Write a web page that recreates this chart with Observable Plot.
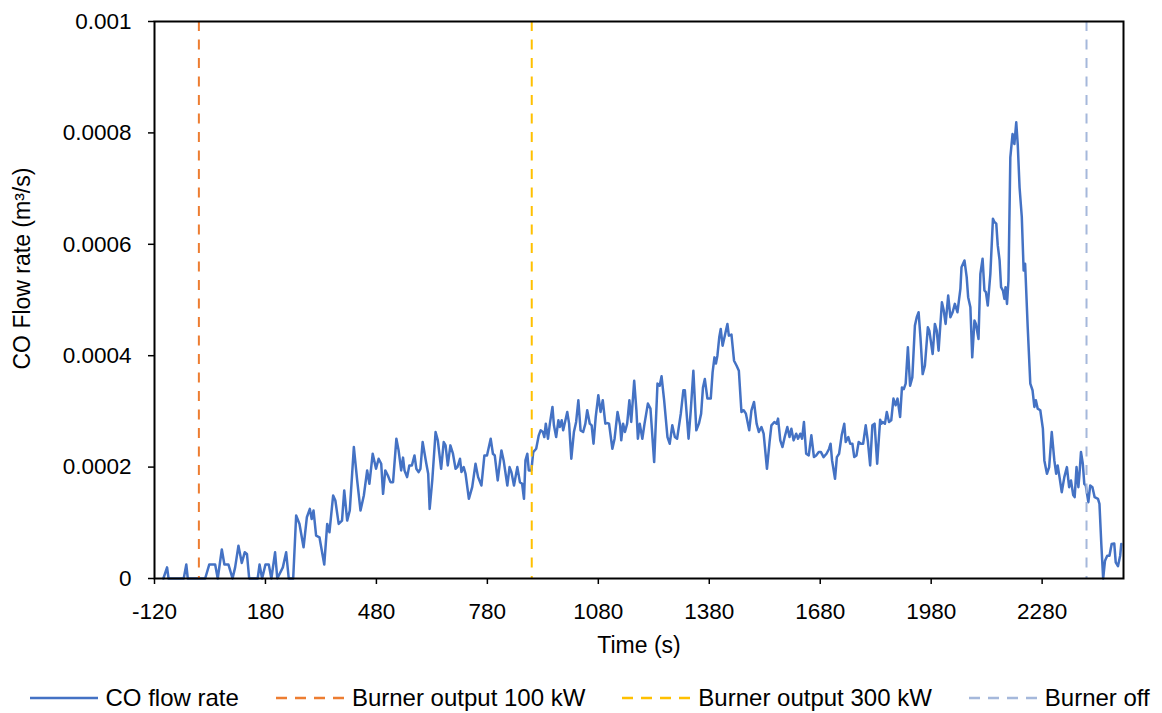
<!DOCTYPE html>
<html><head><meta charset="utf-8">
<script src="https://cdn.jsdelivr.net/npm/d3@7"></script>
<script src="https://cdn.jsdelivr.net/npm/@observablehq/plot@0.6"></script>
<style>
html,body{margin:0;padding:0;background:#fff;}
#chart{width:1162px;height:670px;}
.legend{display:flex;justify-content:flex-start;align-items:center;height:56px;width:1162px;padding-left:11px;box-sizing:border-box;font-family:"Liberation Sans",Arial,sans-serif;font-size:24px;color:#000;white-space:nowrap;}
.item{display:flex;align-items:center;margin:0 18.5px;}
.item svg{margin-right:8px;}
</style></head><body><div id="chart"></div><div class="legend" id="legend"></div><script>
// Time (s)
const coTime = [
  -96, -86, -82, -41, -34, -30, 17, 28, 44, 51,
  62, 69, 80, 91, 98, 107, 116, 124, 130, 136,
  159, 164, 171, 180, 189, 196, 206, 212, 227, 236,
  243, 255, 263, 272, 283, 292, 300, 305, 310, 317,
  326, 339, 347, 353, 363, 369, 378, 387, 393, 401,
  408, 419, 428, 437, 446, 455, 461, 470, 479, 486,
  493, 498, 504, 511, 518, 525, 534, 540, 547, 552,
  556, 563, 569, 576, 583, 588, 594, 599, 605, 615,
  620, 624, 631, 640, 646, 655, 662, 667, 673, 680,
  687, 694, 699, 706, 710, 716, 721, 730, 739, 748,
  755, 764, 772, 779, 789, 795, 800, 808, 818, 824,
  834, 840, 845, 852, 861, 868, 874, 879, 883, 888,
  892, 899, 904, 912, 919, 924, 930, 934, 938, 944,
  949, 956, 960, 966, 972, 976, 981, 985, 990, 996,
  1001, 1007, 1014, 1020, 1026, 1032, 1039, 1045, 1050, 1057,
  1062, 1067, 1073, 1080, 1086, 1092, 1099, 1105, 1109, 1118,
  1124, 1132, 1139, 1142, 1147, 1152, 1158, 1164, 1169, 1177,
  1183, 1187, 1192, 1199, 1205, 1214, 1221, 1231, 1240, 1246,
  1251, 1258, 1267, 1273, 1280, 1287, 1293, 1303, 1310, 1314,
  1324, 1330, 1337, 1345, 1352, 1358, 1363, 1368, 1375, 1384,
  1389, 1394, 1398, 1402, 1407, 1411, 1416, 1422, 1429, 1433,
  1440, 1447, 1454, 1460, 1467, 1473, 1479, 1488, 1494, 1501,
  1508, 1514, 1521, 1527, 1536, 1543, 1548, 1556, 1562, 1566,
  1572, 1578, 1584, 1591, 1597, 1602, 1608, 1615, 1620, 1626,
  1631, 1636, 1642, 1649, 1656, 1663, 1669, 1676, 1682, 1689,
  1697, 1704, 1708, 1712, 1720, 1725, 1731, 1738, 1745, 1749,
  1756, 1761, 1767, 1772, 1778, 1784, 1790, 1796, 1803, 1809,
  1815, 1821, 1827, 1834, 1842, 1846, 1849, 1855, 1860, 1866,
  1872, 1878, 1884, 1889, 1896, 1901, 1906, 1911, 1917, 1923,
  1929, 1936, 1941, 1946, 1951, 1957, 1963, 1971, 1975, 1984,
  1990, 1995, 2000, 2009, 2014, 2019, 2026, 2032, 2038, 2044,
  2051, 2059, 2062, 2070, 2076, 2080, 2086, 2091, 2097, 2101,
  2108, 2113, 2119, 2124, 2128, 2133, 2140, 2147, 2151, 2156,
  2160, 2165, 2169, 2174, 2178, 2181, 2185, 2189, 2194, 2200,
  2205, 2210, 2214, 2219, 2225, 2230, 2234, 2241, 2248, 2254,
  2259, 2263, 2268, 2275, 2282, 2286, 2293, 2299, 2306, 2313,
  2318, 2322, 2327, 2333, 2340, 2347, 2353, 2358, 2364, 2368,
  2373, 2378, 2381, 2385, 2390, 2394, 2398, 2405, 2410, 2416,
  2422, 2431, 2435, 2440, 2445, 2450, 2456, 2462, 2468, 2475,
  2479, 2485, 2491, 2494
];
// CO flow rate, in units of 1e-6 m³/s
const coFlowMicro = [
  0, 20, 0, 0, 25, 0, 0, 25, 25, 0,
  52, 25, 25, 0, 20, 59, 28, 47, 44, 0,
  0, 25, 0, 25, 25, 0, 47, 0, 20, 47,
  0, 0, 113, 98, 56, 110, 125, 107, 122, 77,
  74, 25, 98, 83, 149, 140, 98, 104, 158, 104,
  122, 236, 176, 122, 149, 194, 170, 224, 197, 215,
  206, 152, 194, 185, 173, 173, 251, 230, 194, 217,
  194, 182, 203, 203, 221, 197, 191, 197, 245, 206,
  188, 125, 176, 263, 248, 197, 245, 239, 203, 239,
  224, 197, 200, 215, 191, 200, 188, 143, 164, 206,
  182, 167, 221, 221, 251, 224, 221, 176, 230, 212,
  167, 200, 191, 167, 200, 173, 170, 143, 212, 224,
  194, 194, 227, 233, 257, 266, 263, 254, 278, 251,
  278, 308, 275, 254, 284, 272, 284, 266, 281, 299,
  278, 215, 263, 281, 320, 266, 263, 278, 302, 278,
  275, 242, 290, 329, 299, 320, 278, 279, 278, 233,
  251, 299, 275, 248, 278, 263, 278, 320, 281, 355,
  302, 251, 278, 251, 278, 314, 305, 209, 350, 346,
  363, 320, 254, 242, 275, 254, 251, 296, 338, 338,
  251, 302, 373, 266, 278, 296, 343, 358, 323, 323,
  370, 397, 386, 400, 433, 448, 418, 436, 457, 436,
  438, 391, 382, 373, 299, 302, 296, 266, 302, 317,
  278, 263, 272, 260, 197, 245, 275, 281, 278, 287,
  248, 236, 254, 272, 254, 269, 248, 260, 251, 260,
  251, 281, 224, 221, 257, 218, 221, 227, 227, 218,
  224, 233, 242, 212, 179, 218, 224, 257, 278, 245,
  254, 242, 242, 218, 221, 245, 242, 242, 275, 245,
  203, 275, 278, 206, 285, 278, 281, 278, 299, 281,
  284, 323, 311, 323, 290, 343, 340, 350, 415, 346,
  361, 454, 469, 478, 433, 367, 382, 451, 445, 403,
  457, 445, 409, 496, 481, 457, 508, 469, 478, 493,
  478, 520, 559, 571, 541, 505, 487, 397, 463, 457,
  430, 547, 574, 517, 514, 490, 547, 646, 640, 637,
  598, 571, 523, 517, 502, 523, 493, 535, 756, 798,
  780, 819, 780, 702, 649, 553, 565, 451, 350, 338,
  308, 320, 305, 302, 269, 212, 188, 200, 263, 212,
  188, 203, 182, 155, 182, 200, 164, 176, 150, 146,
  200, 164, 188, 227, 206, 170, 167, 137, 167, 164,
  146, 143, 134, 62, 0, 32, 41, 41, 62, 63,
  29, 22, 41, 62
];
const burnerLabels = ["Burner output 100 kW", "Burner output 300 kW", "Burner off"];
const burnerTimes = [0, 900, 2400];
const xTicks = [-120, 180, 480, 780, 1080, 1380, 1680, 1980, 2280];
const xTickLabels = ["-120", "180", "480", "780", "1080", "1380", "1680", "1980", "2280"];
const yTicks = [0, 200, 400, 600, 800, 1000];
const yTickLabels = ["0", "0.0002", "0.0004", "0.0006", "0.0008", "0.001"];

const lineColor = "#4472C4";
const burnerColors = ["#ED7D31", "#FFC000", "#A5B8DB"];
const font = '"Liberation Sans", Arial, sans-serif';

const rows = coTime.map((t, i) => ({t, v: coFlowMicro[i]}));

const chart = Plot.plot({
  width: 1162, height: 670,
  marginLeft: 154, marginRight: 39, marginTop: 21, marginBottom: 92,
  style: {fontFamily: font, fontSize: "22.5px", color: "#000", background: "#fff", overflow: "visible"},
  x: {domain: [-120, 2500]},
  y: {domain: [0, 1000]},
  marks: [
    Plot.line(rows, {x: "t", y: "v", stroke: lineColor, strokeWidth: 2.5, strokeLinejoin: "round"}),
    ...burnerTimes.map((t, i) => Plot.ruleX([t], {stroke: burnerColors[i], strokeWidth: 2, strokeDasharray: "10,8.5"})),
    Plot.frame({stroke: "#000", strokeWidth: 2}),
    Plot.axisX(xTicks, {anchor: "bottom", tickSize: 6, tickPadding: 19, strokeWidth: 1.5, stroke: "#000", fill: "#000", fontSize: 22.5,
      tickFormat: d => xTickLabels[xTicks.indexOf(d)], label: null}),
    Plot.axisY(yTicks, {anchor: "left", tickSize: 6, tickPadding: 17, strokeWidth: 1.5, stroke: "#000", fill: "#000", fontSize: 22.5,
      tickFormat: d => yTickLabels[yTicks.indexOf(d)], label: null}),
    Plot.text(["Time (s)"], {frameAnchor: "bottom", dy: 74, fontSize: 23, fill: "#000"}),
    Plot.text(["CO Flow rate (m³/s)"], {frameAnchor: "left", rotate: -90, textAnchor: "start", dx: -132, dy: 69.5, fontSize: 23, fill: "#000"})
  ]
});
document.getElementById("chart").appendChild(chart);

// legend
const legend = document.getElementById("legend");
const items = [{label: "CO flow rate", color: lineColor, dash: null}]
  .concat(burnerLabels.map((l, i) => ({label: l, color: burnerColors[i], dash: "11,8"})));
for (const it of items) {
  const div = document.createElement("div");
  div.className = "item";
  div.innerHTML = `<svg width="68" height="6"><line x1="0" x2="68" y1="3" y2="3" stroke="${it.color}" stroke-width="2.5" ${it.dash ? `stroke-dasharray="${it.dash}"` : ""}/></svg><span>${it.label}</span>`;
  legend.appendChild(div);
}
</script></body></html>
